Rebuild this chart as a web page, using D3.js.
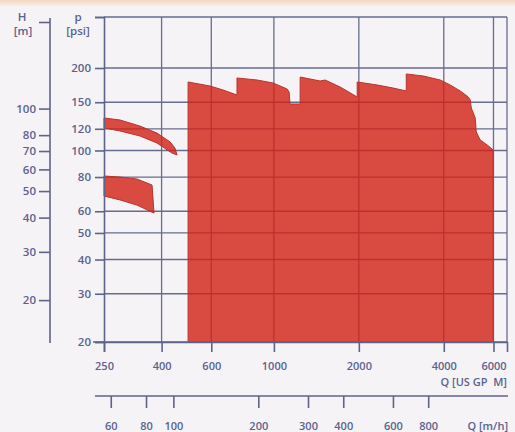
<!DOCTYPE html>
<html>
<head>
<meta charset="utf-8">
<script src="https://cdn.jsdelivr.net/npm/d3@7/dist/d3.min.js"></script>
<style>
  html, body { margin: 0; padding: 0; background: #f6f3f6; }
  svg { display: block; }
  text { font-family: "Open Sans", "DejaVu Sans", sans-serif; font-weight: 600; fill: #5a628e; }
</style>
</head>
<body>
<svg id="chart" width="515" height="432"></svg>
<script>
// ---- data ----
const gpmTicks = [250, 400, 600, 1000, 2000, 4000, 6000];
const psiTicks = [20, 30, 40, 50, 60, 80, 100, 120, 150, 200];
const hTicks = [20, 30, 40, 50, 60, 70, 80, 100];
const m3hTicks = [60, 80, 100, 200, 300, 400, 600, 800];

// regions: [Q (US GPM), p (psi)]
const upperBand = [[250,131.4],[285,129.2],[335,122.8],[385,115.8],[429,107.4],[446,102],[454,96.3],
                   [435,97.9],[385,106.5],[335,113],[285,117.8],[250,120.8]];
const lowerBand = [[250,80.7],[285,80.0],[327,78.7],[370,74.8],[376,59.1],[327,63.2],[285,66],[250,68.2]];
const mainArea = [[496.5,20],[496.5,177.8],[594,171.9],[660,166.3],[740,159.4],[740,183.9],[872,180.8],
  [994,176.3],[1114,167.6],[1132,163.4],[1141,147.8],[1239,147.8],[1239,185.4],[1458,179.3],[1519,180.8],
  [1717,170.5],[1973,156.8],[1973,177.8],[2323,173.4],[2647,169.0],[2945,164.9],[2945,190.2],[3383,187.0],
  [3885,180.8],[4215,173.4],[4575,164.9],[4885,156.8],[4965,152.8],[5005,142.9],[5088,137.0],[5170,131.4],
  [5212,116.8],[5385,109.2],[5702,104.7],[5988,100.4],[5988,20]];

const qDomain = [250, 6700];
const pDomain = [20, 307];
const PSI_PER_M = 1.422;
const GPM_PER_M3H = 4.403;

// ---- scales ----
const svg = d3.select("#chart");
const x = d3.scaleLog().domain(qDomain).range([104, 507]);
const y = d3.scaleLog().domain(pDomain).range([342, 17]);
const yH = d3.scaleLog().domain(pDomain.map(d => d / PSI_PER_M)).range([342, 17]);
const xM = d3.scaleLog().domain(qDomain.map(d => d / GPM_PER_M3H)).range([104, 507]);

const gridColor = "#676c8e";
const axisColor = "#5e6489";

// top peach strip
const defs = svg.append("defs");
const lg = defs.append("linearGradient").attr("id", "topg").attr("x1", 0).attr("y1", 0).attr("x2", 0).attr("y2", 1);
lg.append("stop").attr("offset", "0%").attr("stop-color", "#f4d6bd");
lg.append("stop").attr("offset", "100%").attr("stop-color", "#f6f3f6");
svg.append("rect").attr("x", 0).attr("y", 0).attr("width", 515).attr("height", 7).attr("fill", "url(#topg)");

// ---- grid ----
const grid = svg.append("g");
grid.selectAll("line.v").data(gpmTicks.slice(1).concat([qDomain[1]])).join("line")
  .attr("x1", d => x(d)).attr("x2", d => x(d)).attr("y1", y(pDomain[1])).attr("y2", y(pDomain[0]))
  .attr("stroke", gridColor).attr("stroke-width", 1.3);
grid.selectAll("line.h").data(psiTicks.slice(1).concat([pDomain[1]])).join("line")
  .attr("x1", x(qDomain[0])).attr("x2", x(qDomain[1])).attr("y1", d => y(d)).attr("y2", d => y(d))
  .attr("stroke", gridColor).attr("stroke-width", 1.3);

// ---- regions ----
const line = d3.line().x(d => x(d[0])).y(d => y(d[1]));
svg.append("g").selectAll("path").data([mainArea, upperBand, lowerBand]).join("path")
  .attr("d", d => line(d) + "Z")
  .attr("fill", "rgb(210,32,20)").attr("fill-opacity", 0.8)
  .attr("stroke", "#b8342e").attr("stroke-width", 1).attr("stroke-linejoin", "round");

// ---- axes ----
function styleAxis(g) {
  g.selectAll("path.domain").attr("stroke", axisColor).attr("stroke-width", 1.6);
  g.selectAll(".tick line").attr("stroke", axisColor).attr("stroke-width", 1.6);
  g.selectAll("text").attr("font-family", null).attr("fill", null);
}

// p axis
const pAxis = svg.append("g").attr("transform", `translate(${x(qDomain[0])},0)`)
  .call(d3.axisLeft(y).tickValues(psiTicks.concat([pDomain[1]])).tickSizeOuter(0).tickSize(9)
    .tickFormat(d => psiTicks.includes(d) ? d : ""));
styleAxis(pAxis);
pAxis.selectAll("text").attr("x", -13).attr("font-size", 11.5);

// H axis
const hAxis = svg.append("g").attr("transform", "translate(50,0)")
  .call(d3.axisLeft(yH).tickValues(hTicks.concat([yH.invert(22)])).tickSizeOuter(0).tickSize(11)
    .tickFormat(d => hTicks.includes(d) ? d : ""));
styleAxis(hAxis);
hAxis.select("path.domain").remove();
hAxis.append("line").attr("x1", 0).attr("x2", 0).attr("y1", 18).attr("y2", 343)
  .attr("stroke", axisColor).attr("stroke-width", 1.6);
hAxis.selectAll("text").attr("x", -14).attr("font-size", 11.5);

// bottom GPM axis
const qAxis = svg.append("g").attr("transform", `translate(0,${y(pDomain[0])})`)
  .call(d3.axisBottom(x).tickValues(gpmTicks).tickSizeOuter(0).tickSize(10).tickFormat(d3.format("d")));
styleAxis(qAxis);
qAxis.selectAll("text").attr("y", 28).attr("dy", null).attr("font-size", 11);
svg.append("line").attr("x1", 93).attr("x2", 507).attr("y1", y(pDomain[0])).attr("y2", y(pDomain[0]))
  .attr("stroke", axisColor).attr("stroke-width", 1.6);

// m3/h axis
const mAxis = svg.append("g").attr("transform", "translate(0,396)")
  .call(d3.axisBottom(xM).tickValues(m3hTicks).tickSizeOuter(0).tickSize(12).tickFormat(d3.format("d")));
styleAxis(mAxis);
mAxis.select("path.domain").remove();
mAxis.selectAll("text").attr("y", 34).attr("dy", null).attr("font-size", 11);
svg.append("line").attr("x1", 95).attr("x2", 508).attr("y1", 396).attr("y2", 396)
  .attr("stroke", axisColor).attr("stroke-width", 1.6);

// axis titles
const t = svg.append("g").attr("font-size", 11.5);
t.append("text").attr("x", 22).attr("y", 21).attr("text-anchor", "middle").text("H");
t.append("text").attr("x", 23).attr("y", 35).attr("text-anchor", "middle").text("[m]");
t.append("text").attr("x", 78).attr("y", 21).attr("text-anchor", "middle").text("p");
t.append("text").attr("x", 78).attr("y", 35).attr("text-anchor", "middle").text("[psi]");
t.append("text").attr("x", 507).attr("y", 386).attr("font-size", 11).attr("text-anchor", "end").style("white-space", "pre").text("Q [US GP  M]");
t.append("text").attr("x", 508).attr("y", 430).attr("font-size", 11).attr("text-anchor", "end").text("Q [m/h]");
</script>
</body>
</html>
